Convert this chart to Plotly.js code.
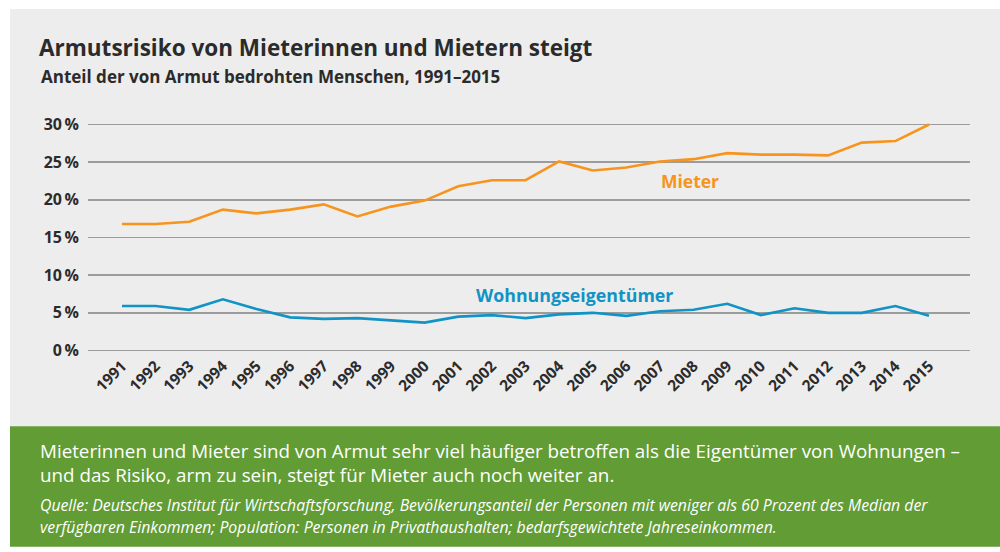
<!DOCTYPE html>
<html>
<head>
<meta charset="utf-8">
<script src="https://cdn.plot.ly/plotly-3.0.1.min.js"></script>
<style>
html,body{margin:0;padding:0;background:#ffffff;}
#chart{width:1000px;height:552px;}
</style>
</head>
<body>
<div id="chart"></div>
<script>
// ---- Data ----
var years = [1991,1992,1993,1994,1995,1996,1997,1998,1999,2000,2001,2002,2003,2004,2005,2006,2007,2008,2009,2010,2011,2012,2013,2014,2015];
var mieter = [16.8,16.8,17.1,18.7,18.2,18.7,19.4,17.8,19.1,19.9,21.8,22.6,22.6,25.1,23.9,24.3,25.1,25.4,26.2,26.0,26.0,25.9,27.6,27.8,30.0];
var eigentuemer = [5.9,5.9,5.4,6.8,5.5,4.4,4.2,4.3,4.0,3.7,4.5,4.7,4.3,4.8,5.0,4.6,5.2,5.4,6.2,4.7,5.6,5.0,5.0,5.9,4.6];
var yTicks = [0,5,10,15,20,25,30];
var seriesNames = ["Mieter","Wohnungseigentümer"];
var titleText = "Armutsrisiko von Mieterinnen und Mietern steigt";
var subtitleText = "Anteil der von Armut bedrohten Menschen, 1991–2015";
var noteLines = ["Mieterinnen und Mieter sind von Armut sehr viel häufiger betroffen als die Eigentümer von Wohnungen –",
                 "und das Risiko, arm zu sein, steigt für Mieter auch noch weiter an."];
var sourceLines = ["Quelle: Deutsches Institut für Wirtschaftsforschung, Bevölkerungsanteil der Personen mit weniger als 60 Prozent des Median der",
                   "verfügbaren Einkommen; Population: Personen in Privathaushalten; bedarfsgewichtete Jahreseinkommen."];

// ---- Layout geometry ----
var W = 1000, H = 552;
var M = {l: 88, r: 30, t: 122.5, b: 199.5};
var pw = W - M.l - M.r, ph = H - M.t - M.b;
function px(x){ return (x - M.l) / pw; }
function py(y){ return (H - M.b - y) / ph; }

var ORANGE = "#F7941D", BLUE = "#1193C5", GREEN = "#619C34", BG = "#EDEDED", DARK = "#2b2b2b";
var FONT = "Open Sans, Noto Sans, sans-serif";

var traces = [
  {x: years, y: mieter, name: seriesNames[0], type: "scatter", mode: "lines",
   line: {color: ORANGE, width: 2.6}, cliponaxis: false, hoverinfo: "x+y"},
  {x: years, y: eigentuemer, name: seriesNames[1], type: "scatter", mode: "lines",
   line: {color: BLUE, width: 2.6}, cliponaxis: false, hoverinfo: "x+y"}
];

var annotations = [
  {text: "<b>" + subtitleText + "</b>", xref: "paper", yref: "paper", x: px(39), y: py(76),
   xanchor: "left", yanchor: "middle", showarrow: false, font: {family: FONT, size: 17, color: DARK}},
  {text: "<b>" + seriesNames[0] + "</b>", xref: "x", yref: "y", x: 2007.9, y: 22.5,
   xanchor: "center", yanchor: "middle", showarrow: false, font: {family: FONT, size: 17.5, color: ORANGE}},
  {text: "<b>" + seriesNames[1] + "</b>", xref: "x", yref: "y", x: 2004.45, y: 7.4,
   xanchor: "center", yanchor: "middle", showarrow: false, font: {family: FONT, size: 17.8, color: BLUE}},
  {text: noteLines.join("<br>"), xref: "paper", yref: "paper", x: px(38), y: py(463.5),
   xanchor: "left", yanchor: "middle", align: "left", showarrow: false,
   font: {family: FONT, size: 18.8, color: "#ffffff"}},
  {text: "<i>" + sourceLines[0] + "</i>", xref: "paper", yref: "paper", x: px(38), y: py(506),
   xanchor: "left", yanchor: "middle", showarrow: false, font: {family: FONT, size: 15.8, color: "#ffffff"}},
  {text: "<i>" + sourceLines[1] + "</i>", xref: "paper", yref: "paper", x: px(38), y: py(528),
   xanchor: "left", yanchor: "middle", showarrow: false, font: {family: FONT, size: 15.8, color: "#ffffff"}}
];

var shapes = [
  {type: "rect", xref: "paper", yref: "paper", x0: px(10), x1: px(1000), y0: py(427), y1: py(8),
   fillcolor: BG, line: {width: 0}, layer: "below"},
  {type: "rect", xref: "paper", yref: "paper", x0: px(10), x1: px(1000), y0: py(548), y1: py(427),
   fillcolor: GREEN, line: {width: 0}, layer: "below"}
];

var layout = {
  width: W, height: H,
  margin: M,
  paper_bgcolor: "#ffffff",
  plot_bgcolor: "rgba(0,0,0,0)",
  showlegend: false,
  title: {text: "<b>" + titleText + "</b>", x: 39 / W, xanchor: "left", xref: "container",
          y: 1 - 48 / H, yanchor: "middle", yref: "container",
          font: {family: FONT, size: 22.5, color: DARK}},
  xaxis: {
    range: [1991 - 34 / 33.625, 2015 + 41 / 33.625],
    tickmode: "array", tickvals: years, ticktext: years.map(function(v){ return "<b>" + v + "</b>"; }),
    tickangle: -45, showgrid: false, zeroline: false, showline: false,
    ticks: "", ticklabelstandoff: 1,
    tickfont: {family: FONT, size: 15.5, color: DARK, weight: "bold"}, fixedrange: true
  },
  yaxis: {
    range: [-0.2, 30.2], tickmode: "array", tickvals: yTicks,
    ticktext: yTicks.map(function(v){ return "<b>" + v + "\u2009%</b>"; }),
    showgrid: true, gridcolor: "#9c9c9c", gridwidth: 1.6,
    zeroline: false, showline: false, ticks: "", ticklabelstandoff: 8,
    tickfont: {family: FONT, size: 16, color: DARK, weight: "bold"}, fixedrange: true
  },
  annotations: annotations,
  shapes: shapes
};

Plotly.newPlot("chart", traces, layout, {displayModeBar: false, staticPlot: true});
</script>
</body>
</html>
